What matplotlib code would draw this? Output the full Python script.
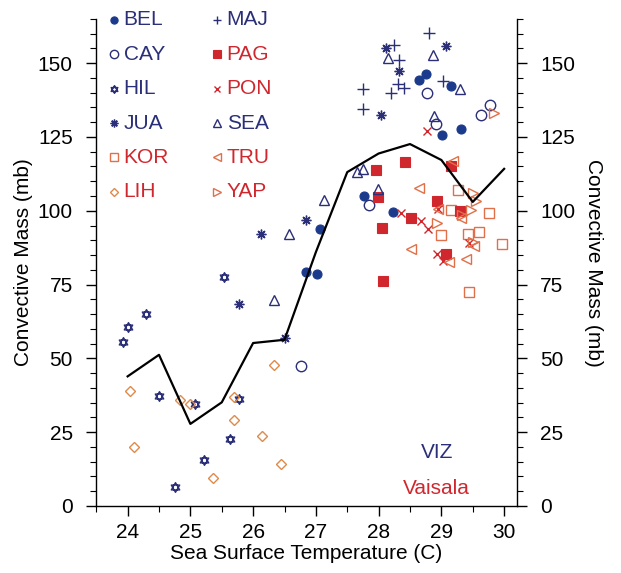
import matplotlib
matplotlib.use("Agg")
import matplotlib.pyplot as plt
from matplotlib.ticker import MultipleLocator
from matplotlib.path import Path

plt.rcParams['font.family'] = ['Liberation Sans', 'DejaVu Sans']

# ---- data ----
line_sst = [24.0, 24.5, 25.0, 25.5, 26.0, 26.5, 27.0, 27.5, 28.0, 28.5, 29.0, 29.5, 30.0]
line_mass = [43.9, 51.2, 27.8, 35.1, 55.2, 56.3, 86.0, 113.1, 119.4, 122.6, 117.2, 103.0, 114.2]

bel_x = [28.76, 28.64, 29.16, 29.01, 29.31, 27.77, 28.23, 27.06, 26.84, 27.01]
bel_y = [146.2, 144.2, 142.3, 125.7, 127.8, 105.0, 99.5, 93.9, 79.2, 78.6]
cay_x = [28.77, 28.92, 29.78, 29.63, 27.85, 26.77]
cay_y = [139.8, 129.3, 135.7, 132.4, 101.9, 47.3]
hil_x = [25.53, 24.30, 24.00, 23.93, 24.50, 25.08, 25.77, 25.63, 25.22, 24.76]
hil_y = [77.5, 65.0, 60.6, 55.5, 37.4, 34.6, 36.3, 22.7, 15.6, 6.3]
jua_x = [28.12, 29.08, 28.33, 28.04, 26.84, 26.13, 25.77, 26.51]
jua_y = [155.0, 155.9, 147.4, 132.3, 96.8, 92.2, 68.5, 56.9]
kor_x = [29.27, 29.15, 29.76, 28.99, 29.42, 29.60, 29.97, 29.44]
kor_y = [107.2, 100.4, 99.1, 91.7, 92.0, 92.9, 88.9, 72.5]
lih_x = [26.33, 24.04, 24.83, 24.99, 25.70, 25.69, 26.14, 24.10, 26.44, 25.36]
lih_y = [47.8, 39.0, 36.0, 34.6, 36.8, 29.2, 23.8, 19.9, 14.1, 9.6]
maj_x = [28.81, 28.25, 28.33, 29.02, 27.75, 28.31, 28.41, 28.19, 27.75]
maj_y = [160.1, 156.1, 151.0, 143.8, 141.4, 142.9, 141.7, 139.8, 134.6]
pag_x = [27.96, 28.42, 29.16, 27.99, 28.93, 29.30, 28.52, 28.05, 29.08, 28.07]
pag_y = [113.7, 116.5, 115.1, 104.7, 103.3, 99.9, 97.5, 94.2, 85.2, 76.1]
pon_x = [28.77, 28.36, 28.68, 28.78, 28.93, 29.02, 29.44, 28.94]
pon_y = [127.0, 99.3, 96.5, 93.9, 85.2, 82.9, 89.1, 100.7]
sea_x = [28.15, 28.87, 29.29, 28.89, 27.65, 27.75, 27.99, 27.13, 26.57, 26.34]
sea_y = [151.6, 152.8, 141.4, 132.1, 113.1, 114.2, 107.4, 103.8, 92.2, 69.9]
tru_x = [29.18, 28.65, 28.94, 29.31, 28.51, 29.12, 29.39, 29.52]
tru_y = [116.8, 107.8, 100.7, 97.6, 86.9, 82.6, 83.7, 88.2]
yap_x = [29.84, 29.51, 29.55, 29.47, 28.93, 29.33, 29.50]
yap_y = [133.2, 106.1, 103.3, 100.4, 95.9, 98.5, 89.5]

x_ticks = [24, 25, 26, 27, 28, 29, 30]
y_ticks = [0, 25, 50, 75, 100, 125, 150]

NAVY = '#2b2f78'
BLUEF = '#1c3a8c'
RED = '#d0272e'
SAL = '#e0704a'
ORG = '#dd8a4a'

# hexagram marker (two overlapping triangles sharing a centroid)
_c, _s = 0.866, 0.5
hexagram = Path(
    [(0, 1), (-_c, -_s), (_c, -_s), (0, 1),
     (0, -1), (-_c, _s), (_c, _s), (0, -1)],
    [Path.MOVETO, Path.LINETO, Path.LINETO, Path.CLOSEPOLY,
     Path.MOVETO, Path.LINETO, Path.LINETO, Path.CLOSEPOLY])

# style per station: (name, x, y, marker, color, filled, size, text color)
stations = [
    ('BEL', bel_x, bel_y, 'o', BLUEF, True, 6.5, NAVY),
    ('CAY', cay_x, cay_y, 'o', NAVY, False, 7.5, NAVY),
    ('HIL', hil_x, hil_y, hexagram, NAVY, False, 7, NAVY),
    ('JUA', jua_x, jua_y, (8, 2, 0), NAVY, False, 7, NAVY),
    ('KOR', kor_x, kor_y, 's', SAL, False, 7.5, RED),
    ('LIH', lih_x, lih_y, 'D', ORG, False, 5.5, RED),
    ('MAJ', maj_x, maj_y, '+', NAVY, False, 8, NAVY),
    ('PAG', pag_x, pag_y, 's', RED, True, 6.5, RED),
    ('PON', pon_x, pon_y, 'x', RED, False, 5.5, RED),
    ('SEA', sea_x, sea_y, '^', NAVY, False, 6.5, NAVY),
    ('TRU', tru_x, tru_y, '<', SAL, False, 6.5, RED),
    ('YAP', yap_x, yap_y, '>', SAL, False, 6.5, RED),
]

fig = plt.figure(figsize=(6.21, 5.73), dpi=100)
ax = fig.add_axes([0.155, 0.117, 0.677, 0.850])


def draw(axis, x, y, m, c, filled, s, **kw):
    if filled:
        axis.plot(x, y, linestyle='none', marker=m, ms=s, mfc=c, mec=c, mew=0.8, **kw)
    else:
        axis.plot(x, y, linestyle='none', marker=m, ms=s, mfc='none', mec=c, mew=1.0, **kw)


for name, x, y, m, c, filled, s, tc in stations:
    draw(ax, x, y, m, c, filled, s, zorder=3)

ax.plot(line_sst, line_mass, color='black', lw=1.6, zorder=4)

# legend (two columns, manual)
for i, (name, x, y, m, c, filled, s, tc) in enumerate(stations):
    col, row = divmod(i, 6)
    mx = [0.043 + col * 0.245]
    my = [0.998 - row * 0.0706]
    draw(ax, mx, my, m, c, filled, s * 0.8, transform=ax.transAxes, clip_on=False)
    ax.text(mx[0] + 0.022, my[0], name, transform=ax.transAxes, color=tc,
            fontsize=15, va='center', ha='left')

ax.text(0.81, 0.109, 'VIZ', transform=ax.transAxes, color=NAVY, fontsize=15,
        ha='center', va='center')
ax.text(0.81, 0.035, 'Vaisala', transform=ax.transAxes, color=RED, fontsize=15,
        ha='center', va='center')

ax.set_xlim(23.5, 30.2)
ax.set_ylim(0, 165)
ax.set_xticks(x_ticks)
ax.set_yticks(y_ticks)
ax.xaxis.set_minor_locator(MultipleLocator(0.5))
ax.yaxis.set_minor_locator(MultipleLocator(5))
ax.spines['top'].set_visible(False)
for sp in ('left', 'right', 'bottom'):
    ax.spines[sp].set_linewidth(1.0)
ax.tick_params(which='both', direction='out', labelsize=15, right=True,
               labelright=True, top=False)
ax.tick_params(which='major', length=7, width=1.0, pad=5)
ax.tick_params(which='minor', length=4, width=0.8)
ax.tick_params(axis='y', which='major', pad=10)

ax.set_xlabel('Sea Surface Temperature (C)', fontsize=15, labelpad=2)
ax.set_ylabel('Convective Mass (mb)', fontsize=15, labelpad=3)
ax2 = ax.secondary_yaxis('right')
ax2.set_yticks([])
ax2.spines['right'].set_visible(False)
ax2.set_ylabel('Convective Mass (mb)', fontsize=15, rotation=270, labelpad=62)

fig.savefig('out.png', dpi=100)
